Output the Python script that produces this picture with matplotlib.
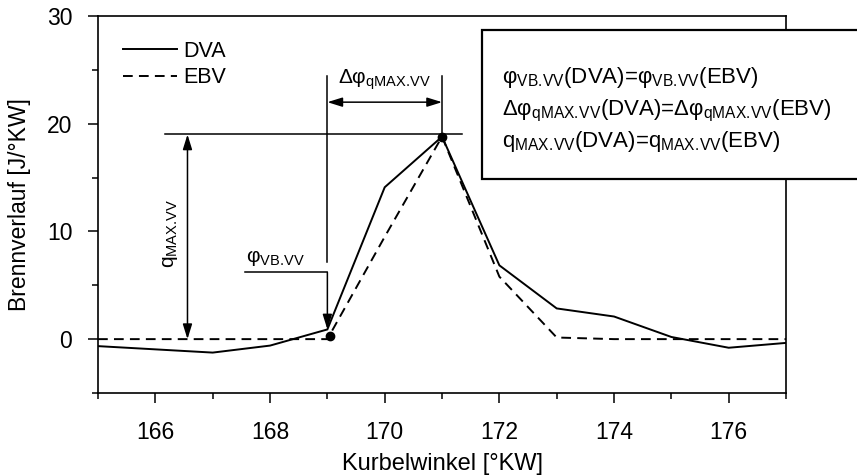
import matplotlib
matplotlib.use("Agg")
import matplotlib.pyplot as plt
from matplotlib.patches import Rectangle
from matplotlib.ticker import MultipleLocator

plt.rcParams["font.family"] = ["Liberation Sans", "DejaVu Sans"]
plt.rcParams["mathtext.fontset"] = "custom"
plt.rcParams["mathtext.rm"] = "Liberation Sans"
plt.rcParams["mathtext.it"] = "Liberation Sans"
plt.rcParams["mathtext.bf"] = "Liberation Sans"

# Kurbelwinkel [°KW]
crank_angle = [165, 166, 167, 168, 169, 170, 171, 172, 173, 174, 175, 176, 177]
# Brennverlauf [J/°KW]
dva = [-0.65, -0.95, -1.25, -0.6, 0.9, 14.1, 18.8, 6.85, 2.85, 2.1, 0.2, -0.8, -0.35]
ebv = [0.0, 0.0, 0.0, 0.0, 0.0, 9.5, 18.8, 5.8, 0.15, 0.0, 0.0, 0.0, 0.0]

x_ticks = [166, 168, 170, 172, 174, 176]
y_ticks = [0, 10, 20, 30]

# characteristic points
phi_vb = 169.0
phi_qmax = 171.0
q_max = 19.0

# subscript strings (tight dot between the abbreviations)
SUB_VB = r"$_{\mathrm{VB.\!VV}}$"
SUB_QMAX = r"$_{\mathrm{qMAX.\!VV}}$"
SUB_MAX = r"$_{\mathrm{MAX.\!VV}}$"

fig = plt.figure(figsize=(8.57, 4.76), dpi=100)
ax = fig.add_axes([0.1144, 0.1744, 0.9172 - 0.1144, 0.9664 - 0.1744])

lw = 1.4
ax.plot(crank_angle, dva, color="black", lw=lw, label="DVA", solid_joinstyle="miter")
ax.plot(crank_angle, ebv, color="black", lw=lw, ls=(0, (5, 3.2)), label="EBV")

ax.set_xlim(165, 177)
ax.set_ylim(-5, 30)
ax.set_xticks(x_ticks)
ax.set_yticks(y_ticks)
ax.xaxis.set_minor_locator(MultipleLocator(1))
ax.yaxis.set_minor_locator(MultipleLocator(5))
ax.tick_params(which="major", direction="out", length=7.5, width=1.1, labelsize=16.5)
ax.tick_params(which="minor", direction="out", length=4.2, width=1.1)
ax.tick_params(axis="x", which="major", pad=13)
ax.tick_params(axis="y", which="major", pad=11)
for s in ax.spines.values():
    s.set_linewidth(1.2)

fig.text(0.5158, 0.026, "Kurbelwinkel [°KW]", ha="center", va="center", fontsize=17)
fig.text(0.0233, 0.5705, "Brennverlauf [J/°KW]", ha="center", va="center",
         rotation=90, fontsize=16.5)

leg = ax.legend(loc="upper left", frameon=False, fontsize=15.5, handlelength=2.5,
                handletextpad=0.3, labelspacing=0.25,
                bbox_to_anchor=(0.008, 0.985))

ann_lw = 1.1
head = dict(arrowstyle="-|>,head_length=0.9,head_width=0.28", color="black",
            lw=ann_lw, shrinkA=0, shrinkB=0)
head2 = dict(arrowstyle="<|-|>,head_length=0.9,head_width=0.28", color="black",
             lw=ann_lw, shrinkA=0, shrinkB=0)

# q_MAX.VV
ax.plot([166.16, 171.35], [q_max, q_max], color="black", lw=ann_lw)
ax.annotate("", xy=(166.56, 19.0), xytext=(166.56, 0.0), arrowprops=head2)
ax.text(166.27, 9.8, "q" + SUB_MAX, rotation=90, ha="center",
        va="center", fontsize=15)

# phi_VB.VV
ax.plot([phi_vb, phi_vb], [24.4, 7.2], color="black", lw=ann_lw)
ax.plot([167.57, phi_vb], [6.2, 6.2], color="black", lw=ann_lw)
ax.annotate("", xy=(phi_vb, dva[crank_angle.index(169)]), xytext=(phi_vb, 6.2),
            arrowprops=head)
ax.text(167.58, 7.2, "φ" + SUB_VB, ha="left", va="baseline", fontsize=15)

# delta phi_qMAX.VV
ax.plot([phi_qmax, phi_qmax], [24.4, 18.8], color="black", lw=ann_lw)
ax.annotate("", xy=(phi_qmax, 22.0), xytext=(phi_vb, 22.0), arrowprops=head2)
ax.text(170.0, 23.7, "Δφ" + SUB_QMAX, ha="center", va="baseline", fontsize=15)

# marked points
ax.plot([phi_qmax, phi_vb + 0.05], [18.8, 0.25], "o", color="black", ms=6, zorder=5)

# info box
box = Rectangle((0.562, 0.624), 0.46, 0.313, transform=fig.transFigure,
                facecolor="white", edgecolor="black", lw=1.6, clip_on=False,
                zorder=10)
ax.add_patch(box)
lines = [
    "φ" + SUB_VB + "(DVA)=φ" + SUB_VB + "(EBV)",
    "Δφ" + SUB_QMAX + "(DVA)=Δφ" + SUB_QMAX + "(EBV)",
    "q" + SUB_MAX + "(DVA)=q" + SUB_MAX + "(EBV)",
]
for yy, t in zip([0.8263, 0.7584, 0.6918], lines):
    ax.text(0.5854, yy, t, transform=fig.transFigure, ha="left", va="baseline",
            fontsize=16, zorder=11, clip_on=False)

fig.savefig("out.png", dpi=100)
